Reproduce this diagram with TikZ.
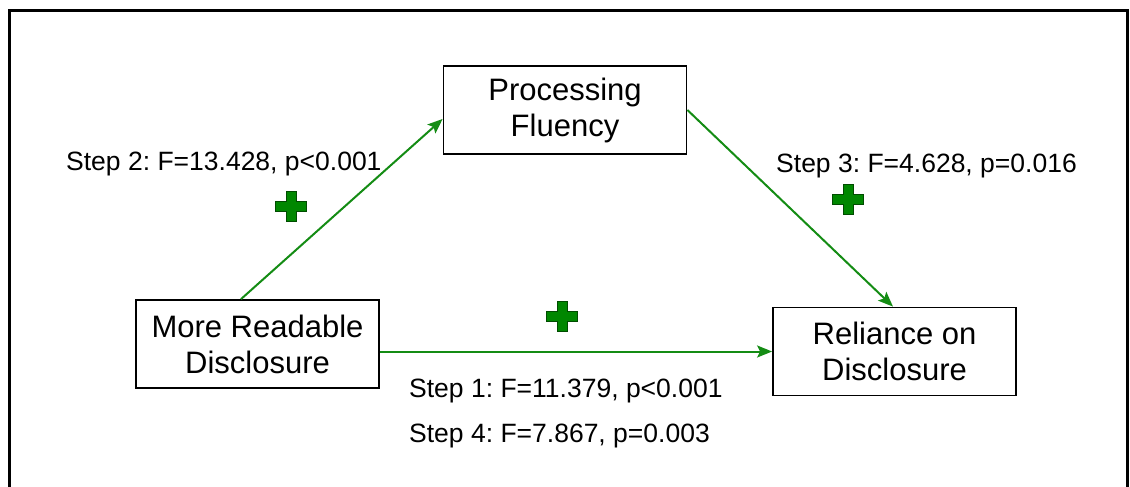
\documentclass[tikz,border=0pt]{standalone}
\usepackage{fontspec}
\setmainfont{Liberation Sans}
\usetikzlibrary{arrows.meta}
\definecolor{arrgreen}{RGB}{20,140,20}
\definecolor{plusgreen}{RGB}{0,135,0}
\tikzset{
  box/.style={draw=black, line width=1.8pt, fill=white, inner sep=0pt,
    minimum width=243pt, minimum height=88pt, align=center,
    font=\fontsize{31}{36}\selectfont},
  lbl/.style={anchor=base west, inner sep=0pt, font=\fontsize{26.5}{31}\selectfont},
  conn/.style={draw=arrgreen, line width=2pt, -{Stealth[length=15pt,width=12pt,inset=3pt]}},
  plussign/.pic={
    \filldraw[fill=plusgreen, draw=black!70!green, line width=1pt]
      (-15.5,-5) -- (-5,-5) -- (-5,-15) -- (5,-15) -- (5,-5) -- (15.5,-5) --
      (15.5,5) -- (5,5) -- (5,15) -- (-5,15) -- (-5,5) -- (-15.5,5) -- cycle;
  }
}
\begin{document}
\frenchspacing
\begin{tikzpicture}[x=1pt, y=-1pt]
\useasboundingbox (0,0) rectangle (1130,487);
\draw[line width=3pt] (9.5,500) -- (9.5,10.5) -- (1127.5,10.5) -- (1127.5,500);
\node[box] (PF) at (565,110) {Processing\\Fluency};
\node[box] (MRD) at (257.5,344) {More Readable\\Disclosure};
\node[box] (RD) at (894.5,351.5) {Reliance on\\Disclosure};
\draw[conn] ([xshift=-16.5pt]MRD.north) -- ([yshift=-9pt]PF.west);
\draw[conn] (PF.east) -- ([xshift=-1.5pt]RD.north);
\draw[conn] (MRD.east |- RD.west) -- (RD.west);
\node[lbl] (s2) at (66,170) {Step 2: F=13.428, p<0.001};
\node[lbl] (s3) at (776,172) {Step 3: F=4.628, p=0.016};
\node[lbl] (s1) at (409,397) {Step 1: F=11.379, p<0.001};
\node[lbl] (s4) at (409,442) {Step 4: F=7.867, p=0.003};
\pic at (291,206) {plussign};
\pic at (848,199) {plussign};
\pic at (562,316) {plussign};
\end{tikzpicture}
\end{document}
